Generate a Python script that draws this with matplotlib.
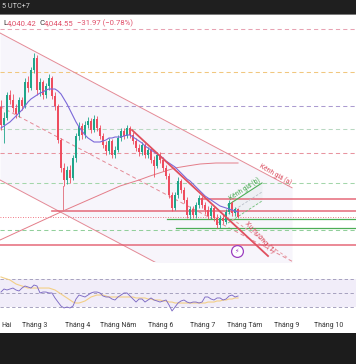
import numpy as np
import matplotlib.pyplot as plt
from matplotlib.patches import Rectangle
from matplotlib.transforms import blended_transform_factory

plt.rcParams['font.family'] = ['Roboto', 'DejaVu Sans']

# bars: one every 2.19 days, day 0 = 1 Feb
bar_start = 3.2
bar_step = 2.19

opens = [4484, 4412, 4440, 4532, 4512, 4480, 4456, 4512, 4488, 4584,
         4560, 4632, 4680, 4552, 4584, 4532, 4568, 4600, 4528, 4488,
         4352, 4240, 4192, 4232, 4200, 4280, 4368, 4408, 4372, 4412,
         4428, 4392, 4436, 4400, 4368, 4332, 4308, 4348, 4292, 4312,
         4360, 4388, 4368, 4400, 4372, 4348, 4320, 4304, 4332, 4292,
         4312, 4272, 4248, 4292, 4272, 4240, 4208, 4132, 4080, 4132,
         4188, 4152, 4112, 4052, 4076, 4052, 4092, 4120, 4092, 4072,
         4048, 4080, 4040, 4012, 4040, 4024, 4064, 4100, 4060, 4076.52]
closes = [4412, 4440, 4532, 4512, 4480, 4456, 4512, 4488, 4584, 4560,
          4632, 4680, 4552, 4584, 4532, 4568, 4600, 4528, 4488, 4352,
          4240, 4192, 4232, 4200, 4280, 4368, 4408, 4372, 4412, 4428,
          4392, 4436, 4400, 4368, 4332, 4308, 4348, 4292, 4312, 4360,
          4388, 4368, 4400, 4372, 4348, 4320, 4304, 4332, 4292, 4312,
          4272, 4248, 4292, 4272, 4240, 4208, 4132, 4080, 4132, 4188,
          4152, 4112, 4052, 4076, 4052, 4092, 4120, 4092, 4072, 4048,
          4080, 4040, 4012, 4040, 4028, 4064, 4100, 4060, 4076.52, 4044.55]
highs = [4512, 4464, 4544, 4552, 4536, 4496, 4524, 4524, 4600, 4608,
         4644, 4700, 4692, 4600, 4592, 4580, 4616, 4608, 4544, 4496,
         4360, 4260, 4248, 4252, 4292, 4380, 4424, 4420, 4428, 4444,
         4440, 4452, 4448, 4412, 4380, 4348, 4360, 4356, 4328, 4372,
         4400, 4400, 4412, 4408, 4384, 4360, 4336, 4344, 4340, 4324,
         4320, 4288, 4304, 4304, 4284, 4252, 4220, 4144, 4144, 4204,
         4196, 4164, 4124, 4088, 4088, 4104, 4132, 4128, 4104, 4088,
         4092, 4088, 4056, 4052, 4056, 4076, 4112, 4108, 4084, 4080]
lows = [4392, 4340, 4432, 4496, 4464, 4440, 4444, 4472, 4480, 4544,
        4552, 4620, 4532, 4528, 4516, 4520, 4552, 4516, 4472, 4340,
        4224, 4168, 4176, 4180, 4192, 4264, 4352, 4356, 4360, 4400,
        4380, 4384, 4388, 4356, 4320, 4292, 4296, 4280, 4280, 4304,
        4348, 4356, 4360, 4360, 4336, 4308, 4288, 4292, 4280, 4280,
        4260, 4204, 4240, 4260, 4228, 4196, 4120, 4068, 4072, 4120,
        4140, 4100, 4040, 4036, 4040, 4040, 4080, 4080, 4056, 4036,
        4036, 4028, 4000, 4000, 4016, 4016, 4056, 4048, 4048, 4040.42]
ma = [4400, 4408, 4416, 4424, 4436, 4448, 4460, 4472, 4488, 4504,
      4516, 4524, 4532, 4540, 4544, 4552, 4556, 4556, 4556, 4548,
      4536, 4516, 4496, 4472, 4448, 4424, 4404, 4388, 4372, 4360,
      4352, 4344, 4344, 4344, 4348, 4352, 4360, 4360, 4364, 4364,
      4364, 4368, 4372, 4372, 4364, 4356, 4348, 4340, 4328, 4320,
      4312, 4304, 4296, 4288, 4280, 4268, 4260, 4252, 4244, 4232,
      4220, 4208, 4196, 4188, 4176, 4164, 4152, 4140, 4128, 4120,
      4112, 4104, 4096, 4088, 4084, 4080, 4076, 4072, 4068, 4064]
rsi = [51.4, 55.7, 54.3, 55.7, 57.1, 54.3, 52.9, 57.1, 60.0, 58.6,
       57.1, 61.4, 60.0, 50.0, 51.4, 51.4, 50.0, 50.0, 42.9, 37.1,
       31.4, 28.6, 30.0, 28.6, 31.4, 41.4, 47.1, 45.7, 44.3, 47.1,
       50.0, 51.4, 51.4, 50.0, 45.7, 44.3, 44.3, 41.4, 40.0, 44.3,
       47.1, 50.0, 50.0, 45.7, 41.4, 37.1, 41.4, 41.4, 37.1, 40.0,
       42.9, 40.0, 38.6, 37.1, 38.6, 40.0, 32.9, 24.3, 30.0, 35.7,
       38.6, 40.0, 37.1, 35.7, 37.1, 37.1, 35.7, 37.1, 44.3, 44.3,
       41.4, 40.0, 42.9, 42.9, 40.0, 41.4, 45.7, 47.1, 44.3, 45.7]
rsi_ma = [72.9, 71.4, 70.0, 68.6, 65.7, 62.9, 61.4, 60.0, 58.6, 57.1,
          57.1, 57.1, 57.1, 57.1, 57.1, 57.1, 57.1, 55.7, 54.3, 51.4,
          48.6, 45.7, 42.9, 40.0, 37.1, 35.7, 35.7, 37.1, 38.6, 41.4,
          44.3, 45.7, 47.1, 47.1, 47.1, 45.7, 44.3, 44.3, 44.3, 44.3,
          44.3, 44.3, 44.3, 44.3, 44.3, 42.9, 42.9, 42.9, 42.9, 41.4,
          41.4, 40.0, 40.0, 40.0, 38.6, 38.6, 37.1, 37.1, 35.7, 35.7,
          35.7, 35.7, 35.7, 35.7, 35.7, 35.7, 35.7, 35.7, 35.7, 37.1,
          37.1, 37.1, 38.6, 38.6, 40.0, 40.0, 41.4, 41.4, 42.9, 42.9]

# month ticks; the Feb label is cut by the left edge, only "Hai" shows
month_days = [0, 28, 59, 89, 120, 150, 181, 212, 242]
month_labels = ['Hai', 'Tháng 3', 'Tháng 4', 'Tháng Năm', 'Tháng 6',
                'Tháng 7', 'Tháng Tám', 'Tháng 9', 'Tháng 10']

# dashed horizontal levels
dash_levels = [4796, 4624, 4488, 4396, 4300, 4180, 3992]
dash_colors = ['#e8a3b3', '#f1c77e', '#ab9bd0', '#b9d8c2', '#e8949f', '#a3d6aa', '#92cf9b']
# solid levels and the day they start on
red_levels = [4116, 4068, 3932]
red_starts = [147.7, 40.4, 2.5]
green_levels = [4036, 4000]
green_starts = [124.4, 131.0]

# drawings as (day, price)
chan_days = [2.5, 215.6]
chan_top = [4780, 4161]
chan_mid = [4486, 3867]
chan_bot = [4192, 3573]
trend_days = [98.8, 198.1]
trend_px = [4392, 3888]
trend2_days = [171.8, 212.7]
trend2_px = [4036, 3880]
arc_days = [2.5, 48.5, 90.1, 104, 112, 121, 130.2, 139, 148.5, 160, 176.2]
arc_px = [3952, 4068, 4168, 4192, 4208, 4224, 4240, 4248, 4256, 4260, 4260]
vline_day = 48.5
vline_px = [4168, 4068]
chb_days = [168.9, 193.7]
chb_top = [4092, 4180]
chb_mid = [4056, 4144]
chb_bot = [4020, 4108]

UP = '#1fa58a'
DOWN = '#ee4d5f'
RED = '#e35d6e'

W, H = 356, 364
fig = plt.figure(figsize=(W / 100, H / 100), dpi=100)
fig.patch.set_facecolor('white')

def fy(px):
    return 1 - px / H

xlim = (2.48, 262.3)
ax = fig.add_axes([0, fy(262), 1, (262 - 15) / H])
ax.set_xlim(*xlim)
ax.set_ylim(3864, 4852)
ax.axis('off')

# channel (a)
ax.fill_between(chan_days, chan_bot, chan_top, color='#f7f5fb', lw=0, zorder=0)
ax.plot(chan_days, chan_top, color='#e48a96', lw=0.7, zorder=2)
ax.plot(chan_days, chan_bot, color='#e48a96', lw=0.7, zorder=2)
ax.plot(chan_days, chan_mid, color='#e48a96', lw=0.7, dashes=(4, 3), zorder=2)

for lv, c in zip(dash_levels, dash_colors):
    ax.axhline(lv, color=c, lw=0.75, dashes=(4, 3), zorder=1)
for lv, s in zip(red_levels, red_starts):
    ax.plot([s, xlim[1]], [lv, lv], color=RED, lw=1.2, alpha=0.85, zorder=2)
for lv, s in zip(green_levels, green_starts):
    ax.plot([s, xlim[1]], [lv, lv], color='#4cae55', lw=0.9, zorder=2)
ax.axhline(closes[-1], color=DOWN, lw=0.6, dashes=(1, 2), zorder=1)

# arc + vertical marker
ax.plot(arc_days, arc_px, color='#e47d89', lw=0.7, zorder=2)
ax.plot([vline_day, vline_day], vline_px, color='#e47d89', lw=0.7, zorder=2)

# channel (b)
ax.fill_between(chb_days, chb_bot, chb_top, color='#eef0f4', lw=0, zorder=1)
ax.plot(chb_days, chb_top, color='#4cae55', lw=0.8, zorder=3)
ax.plot(chb_days, chb_mid, color='#b9bec8', lw=0.6, dashes=(3, 2), zorder=3)
ax.plot(chb_days, chb_bot, color='#6fbf76', lw=0.6, dashes=(3, 2), zorder=3)

# candles
n = len(opens)
x = bar_start + bar_step * np.arange(n)
o = np.array(opens); c = np.array(closes)
cols = [UP if cc >= oo else DOWN for oo, cc in zip(o, c)]
ax.vlines(x, lows, highs, colors=cols, lw=0.6, zorder=4)
body = np.maximum(np.abs(c - o), 3)
ax.bar(x, body, bottom=np.minimum(o, c), width=1.7, color=cols, lw=0, zorder=4)
ax.plot(x, ma, color='#7b68d9', lw=0.8, zorder=5)

# trend lines on top
ax.plot(trend_days, trend_px, color='#e0505f', lw=1.3, zorder=6)
ax.plot(trend2_days, trend2_px, color='#e8a0a8', lw=0.7, dashes=(3, 2.5), zorder=6)

ax.text(203.2, 4214, 'Kênh giá (a)', color='#d9485a', fontsize=4.8, rotation=-30,
        ha='center', va='center', zorder=7)
ax.text(181.3, 4158, 'Kênh giá (b)', color='#43a84c', fontsize=4.8, rotation=33,
        ha='center', va='center', zorder=7)
ax.text(192.3, 3962, 'Xu hướng (1)', color='#d9485a', fontsize=5, rotation=-47,
        ha='center', va='center', zorder=7)
ax.plot([175.5], [3908], 'o', ms=8.5, mfc='white', mec='#9c3fc0', mew=0.9, zorder=7)
ax.text(175.5, 3908, '⚡', color='#9c3fc0', fontsize=4.5, ha='center', va='center',
        family='DejaVu Sans', zorder=8)

# RSI pane
ax2 = fig.add_axes([0, fy(316), 1, 46 / H])
ax2.set_xlim(*xlim)
ax2.set_ylim(17.14, 82.86)
ax2.axis('off')
ax2.axhspan(30, 70, color='#f1edf9', lw=0, zorder=0)
for lv in (70, 50, 30):
    ax2.axhline(lv, color='#9a95b5', lw=0.6, dashes=(4, 3), zorder=1)
ax2.plot(x, rsi_ma, color='#f3cf86', lw=0.8, zorder=2)
ax2.plot(x, rsi, color='#7e6bc4', lw=0.65, zorder=3)

tr = blended_transform_factory(ax2.transData, ax2.transAxes)
for d, lab in zip(month_days, month_labels):
    if d < xlim[0]:
        ax2.text(xlim[0] + 1.2, -0.2, lab, transform=tr, ha='left', va='center',
                 fontsize=5, color='#333333', clip_on=False)
    else:
        ax2.text(d, -0.2, lab, transform=tr, ha='center', va='center', fontsize=5,
                 color='#333333', clip_on=False)

# top bar and legend
fig.add_artist(Rectangle((0, fy(14)), 1, 14 / H, transform=fig.transFigure,
                         color='#1f1f1f', lw=0))
fig.add_artist(Rectangle((0, fy(14.6)), 1, 0.8 / H, transform=fig.transFigure,
                         color='#7a7a7a', lw=0))
fig.text(2 / W, fy(7), '5 UTC+7', color='#d8d8d8', fontsize=5.2, va='center')

chg = closes[-1] - closes[-2]
pct = chg / closes[-2] * 100
hy = fy(23)
fs = 5.6
fig.text(3.5 / W, hy, 'L', color='#333333', fontsize=fs, va='center')
fig.text(7 / W, hy, f'{lows[-1]:,.2f}', color='#e0506a', fontsize=fs, va='center')
fig.text(39 / W, hy, 'C', color='#333333', fontsize=fs, va='center')
fig.text(43.5 / W, hy, f'{closes[-1]:,.2f}', color='#e0506a', fontsize=fs, va='center')
fig.text(77 / W, hy, f'{chg:.2f} ({pct:.2f}%)'.replace('-', '\u2212'),
         color='#e0506a', fontsize=fs, va='center')

# bottom bar
fig.add_artist(Rectangle((0, 0), 1, 31 / H, transform=fig.transFigure,
                         color='#1c1c1c', lw=0))

fig.savefig('out.png', dpi=100)
